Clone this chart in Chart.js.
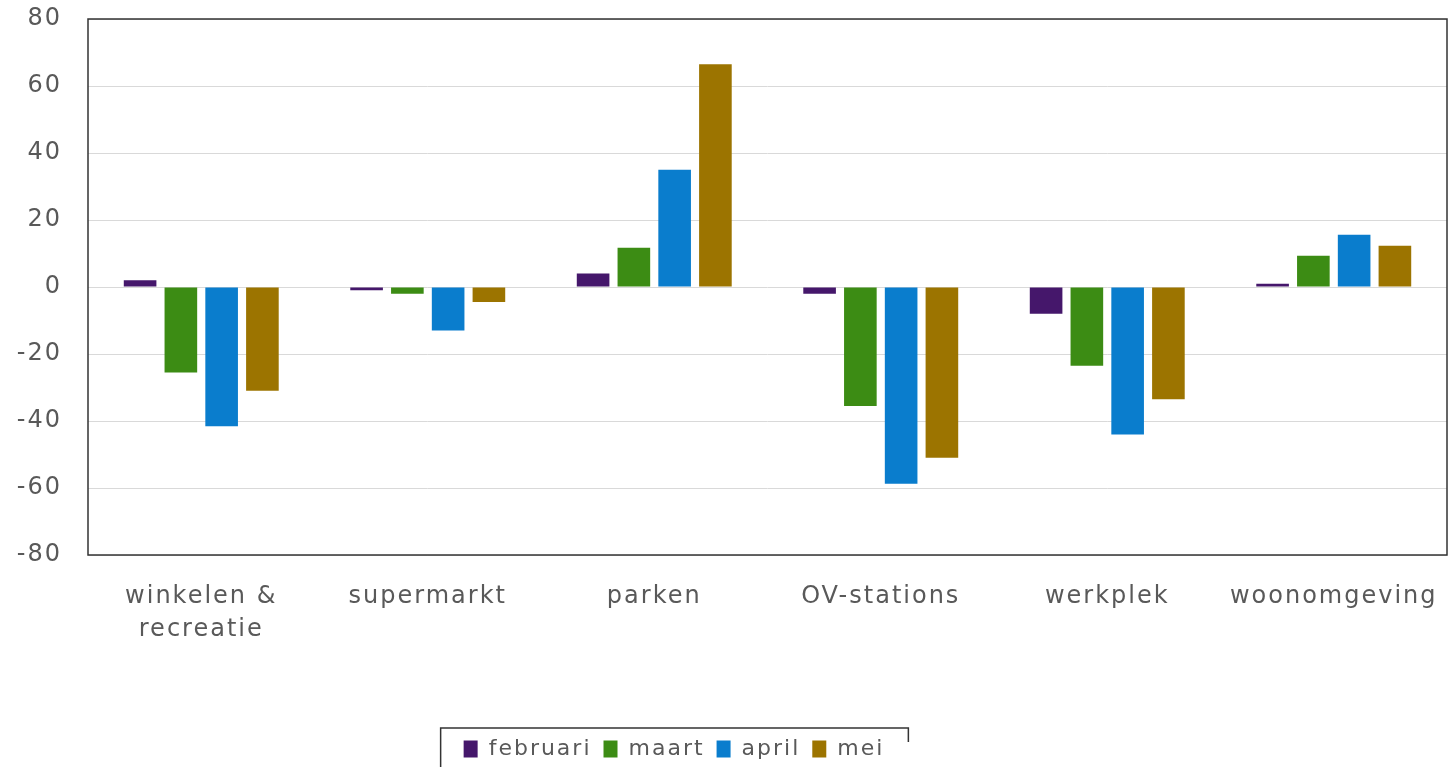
<!DOCTYPE html>
<html>
<head>
<meta charset="utf-8">
<script src="https://cdn.jsdelivr.net/npm/chart.js@4"></script>
<style>
  body { margin: 0; background: #fff; }
</style>
</head>
<body>
<canvas id="myChart" width="1449" height="767"></canvas>
<script>
const categories = [['winkelen &', 'recreatie'], 'supermarkt', 'parken', 'OV-stations', 'werkplek', 'woonomgeving'];
const februari = [2, -1, 4, -2, -8, 1];
const maart = [-25.5, -2, 11.7, -35.5, -23.5, 9.3];
const april = [-41.6, -13, 35, -58.7, -44, 15.6];
const mei = [-31, -4.5, 66.5, -51, -33.5, 12.3];
const yTicks = [-80, -60, -40, -20, 0, 20, 40, 60, 80];

const textColor = '#595959';

function getColor(month) {
    if (month === 'februari') return '#45176b';
    if (month === 'maart') return '#3c8c14';
    if (month === 'april') return '#0a7dcd';
    if (month === 'mei') return '#9c7400';
}

const series = { februari, maart, april, mei };

// letter spacing + frame around plot and legend
const decor = {
    id: 'decor',
    beforeLayout(chart) { chart.ctx.letterSpacing = '2px'; },
    afterLayout(chart) {
        const lg = chart.legend;
        lg.left = 0;
        lg.right = 1348;
        lg.top += 3;
        lg.bottom += 3;
    },
    beforeDraw(chart) { chart.ctx.letterSpacing = '2px'; },
    afterDraw(chart) {
        const ctx = chart.ctx;
        const a = chart.chartArea;
        ctx.save();
        ctx.strokeStyle = '#333';
        ctx.lineWidth = 1.5;
        ctx.strokeRect(a.left, a.top, a.right - a.left, a.bottom - a.top);
        const hb = chart.legend.legendHitBoxes;
        if (hb.length) {
            const last = hb[hb.length - 1];
            const x0 = hb[0].left - 23;
            const x1 = last.left + last.width + 24;
            const y0 = hb[0].top - 10;
            ctx.beginPath();
            ctx.moveTo(x0, chart.height + 5);
            ctx.lineTo(x0, y0);
            ctx.lineTo(x1, y0);
            ctx.lineTo(x1, y0 + 14);
            ctx.stroke();
        }
        ctx.restore();
    }
};

new Chart(document.getElementById('myChart').getContext('2d'), {
    type: 'bar',
    data: {
        labels: categories,
        datasets: Object.keys(series).map(name => ({
            label: name,
            data: series[name],
            backgroundColor: getColor(name),
            borderWidth: 0,
            categoryPercentage: 0.72,
            barPercentage: 0.8
        }))
    },
    options: {
        responsive: false,
        animation: false,
        layout: { padding: { left: 0, right: 2, top: 2, bottom: 0 } },
        plugins: {
            tooltip: { enabled: false },
            legend: {
                position: 'bottom',
                labels: {
                    color: textColor,
                    font: { family: 'DejaVu Sans', size: 22 },
                    boxWidth: 14,
                    boxHeight: 17,
                    padding: 12
                }
            }
        },
        scales: {
            x: {
                grid: { display: false },
                border: { display: false },
                ticks: {
                    color: textColor,
                    font: { family: 'DejaVu Sans', size: 24, lineHeight: 1.35 },
                    padding: 18,
                    maxRotation: 0,
                    autoSkip: false
                },
                afterFit(scale) {
                    scale.height = 168;
                    scale.paddingLeft = 0;
                    scale.paddingRight = 0;
                }
            },
            y: {
                min: -80,
                max: 80,
                afterBuildTicks(scale) { scale.ticks = yTicks.map(v => ({ value: v })); },
                grid: { color: '#d9d9d9', lineWidth: 1, drawTicks: false },
                border: { display: false },
                ticks: {
                    color: textColor,
                    font: { family: 'DejaVu Sans', size: 24 },
                    padding: 26
                },
                afterFit(scale) {
                    scale.width = 88;
                    scale.paddingTop = 19;
                    scale.paddingBottom = 0;
                }
            }
        }
    },
    plugins: [decor]
});
</script>
</body>
</html>
